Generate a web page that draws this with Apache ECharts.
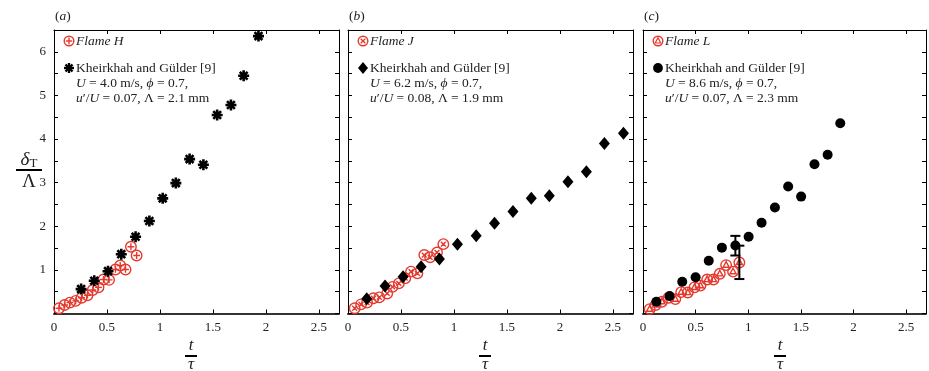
<!DOCTYPE html>
<html><head><meta charset="utf-8">
<script src="https://cdn.jsdelivr.net/npm/echarts@6/dist/echarts.min.js"></script>
<style>html,body{margin:0;padding:0;background:#fff}#c{width:929px;height:371px}</style>
</head><body><div id="c"></div>
<script>
// ---- data (t/tau, deltaT/Lambda) ----
const flameH_x = [0.047,0.10,0.15,0.205,0.26,0.316,0.366,0.42,0.467,0.52,0.58,0.625,0.675,0.726,0.78];
const flameH_y = [0.12,0.195,0.25,0.29,0.36,0.42,0.54,0.60,0.78,0.77,1.01,1.10,1.01,1.53,1.33];
const khA_x = [0.256,0.38,0.51,0.635,0.77,0.90,1.026,1.15,1.28,1.41,1.54,1.67,1.79,1.93];
const khA_y = [0.56,0.75,0.97,1.36,1.76,2.12,2.64,2.99,3.54,3.41,4.55,4.78,5.45,6.36];
const flameJ_x = [0.063,0.123,0.18,0.24,0.296,0.37,0.42,0.48,0.54,0.595,0.655,0.72,0.775,0.84,0.90];
const flameJ_y = [0.12,0.21,0.25,0.35,0.37,0.46,0.61,0.69,0.81,0.96,0.92,1.34,1.29,1.40,1.59];
const khB_x = [0.177,0.35,0.52,0.69,0.863,1.033,1.21,1.383,1.557,1.73,1.90,2.076,2.25,2.42,2.60];
const khB_y = [0.34,0.63,0.84,1.07,1.25,1.59,1.78,2.07,2.34,2.64,2.70,3.02,3.25,3.90,4.13];
const flameL_x = [0.063,0.12,0.18,0.243,0.307,0.363,0.426,0.49,0.546,0.61,0.67,0.73,0.79,0.856,0.916];
const flameL_y = [0.10,0.195,0.27,0.36,0.33,0.49,0.48,0.60,0.64,0.78,0.78,0.91,1.11,0.96,1.17];
const khC_x = [0.127,0.253,0.373,0.50,0.625,0.75,0.878,1.004,1.127,1.254,1.38,1.503,1.63,1.755,1.875];
const khC_y = [0.27,0.40,0.73,0.83,1.21,1.51,1.56,1.76,2.08,2.43,2.91,2.68,3.42,3.64,4.36];
const err_x = [0.878, 0.916];
const err_lo = [1.33, 0.79];
const err_hi = [1.78, 1.555];
const panelLetters = ['a','b','c'];
const flameNames = ['Flame H','Flame J','Flame L'];
const refName = 'Kheirkhah and Gülder [9]';
const condLine1 = ['4.0','6.2','8.6'];
const condLine2 = ['0.07, Λ = 2.1','0.08, Λ = 1.9','0.07, Λ = 2.3'];

const zip = (a,b) => a.map((v,i)=>[v,b[i]]);
const RED = '#e5392e';
const SERIF = '"Liberation Serif","DejaVu Serif",serif';
const P_PLUS = 'path://M0,10 A10,10 0 1 1 20,10 A10,10 0 1 1 0,10 Z M10,3.5 L10,16.5 M3.5,10 L16.5,10';
const P_X = 'path://M0,10 A10,10 0 1 1 20,10 A10,10 0 1 1 0,10 Z M5.4,5.4 L14.6,14.6 M14.6,5.4 L5.4,14.6';
const P_TRI = 'path://M0,10 A10,10 0 1 1 20,10 A10,10 0 1 1 0,10 Z M10,3.5 L15.8,14 L4.2,14 Z';
const P_AST = 'path://M10,0 L10,20 M0,10 L20,10 M2.9,2.9 L17.1,17.1 M17.1,2.9 L2.9,17.1';
const redSyms = [P_PLUS, P_X, P_TRI];

const lefts = [54, 348, 643];
const W = 285, TOP = 30, H = 283.5;
const XMAX = 2.69, YMAX = 6.5;

const grids = [], xAxes = [], yAxes = [], series = [], graphics = [];
const halfTick = v => Math.abs(v*2 - Math.round(v*2)) < 1e-6;

lefts.forEach((L, i) => {
  grids.push({left: L, top: TOP, width: W, height: H});
  xAxes.push({gridIndex:i, type:'value', min:0, max:XMAX, interval:0.5, position:'bottom',
    axisLine:{show:true, onZero:false, lineStyle:{color:'#333', width:2}},
    axisTick:{show:true, inside:true, length:4, lineStyle:{color:'#000', width:1}},
    axisLabel:{fontFamily:SERIF, fontSize:13, color:'#222', margin:8,
      formatter: v => halfTick(v) && v < 2.6 ? String(v) : ''},
    splitLine:{show:false}});
  xAxes.push({gridIndex:i, type:'value', min:0, max:XMAX, interval:0.5, position:'top',
    axisLine:{show:true, onZero:false, lineStyle:{color:'#000', width:1}},
    axisTick:{show:true, inside:true, length:4, lineStyle:{color:'#000'}},
    axisLabel:{show:false}, splitLine:{show:false}});
  yAxes.push({gridIndex:i, type:'value', min:0, max:YMAX, interval:0.5, position:'left',
    axisLine:{show:true, onZero:false, lineStyle:{color:'#000', width:1}},
    axisTick:{show:true, inside:true, length:4, lineStyle:{color:'#000'}},
    axisLabel:{show: i===0, fontFamily:SERIF, fontSize:13, color:'#222', margin:8,
      formatter: v => (Math.abs(v - Math.round(v)) < 1e-6 && v > 0) ? String(Math.round(v)) : ''},
    splitLine:{show:false}});
  yAxes.push({gridIndex:i, type:'value', min:0, max:YMAX, interval:0.5, position:'right',
    axisLine:{show:true, onZero:false, lineStyle:{color:'#000', width:1}},
    axisTick:{show:true, inside:true, length:4, lineStyle:{color:'#000'}},
    axisLabel:{show:false}, splitLine:{show:false}});
});

const redData = [zip(flameH_x, flameH_y), zip(flameJ_x, flameJ_y), zip(flameL_x, flameL_y)];
const blackData = [zip(khA_x, khA_y), zip(khB_x, khB_y), zip(khC_x, khC_y)];

for (let i = 0; i < 3; i++) {
  series.push({name: flameNames[i], type:'scatter', xAxisIndex:2*i, yAxisIndex:2*i,
    data: redData[i], symbol: redSyms[i], symbolSize: 10.5, silent:true,
    itemStyle:{color:'rgba(255,255,255,0)', borderColor:RED, borderWidth:1.4, opacity:1}});
  const bs = i === 0 ? {symbol:P_AST, symbolSize:11, itemStyle:{color:'rgba(0,0,0,0)', borderColor:'#000', borderWidth:2.6, opacity:1}}
           : i === 1 ? {symbol:'diamond', symbolSize:[11,13], itemStyle:{color:'#000', opacity:1}}
           : {symbol:'circle', symbolSize:10, itemStyle:{color:'#000', opacity:1}};
  series.push(Object.assign({name: refName + ' ' + panelLetters[i], type:'scatter', xAxisIndex:2*i, yAxisIndex:2*i,
    data: blackData[i], silent:true}, bs));
}

series.push({type:'custom', xAxisIndex:4, yAxisIndex:4, silent:true, z:5,
  data: err_x.map((x,k)=>[x, err_lo[k], err_hi[k]]),
  renderItem: (params, api) => {
    const x = api.value(0);
    const a = api.coord([x, api.value(1)]);
    const b = api.coord([x, api.value(2)]);
    const w = 5, st = {stroke:'#000', lineWidth:2};
    return {type:'group', children:[
      {type:'line', shape:{x1:a[0], y1:a[1], x2:b[0], y2:b[1]}, style:st},
      {type:'line', shape:{x1:a[0]-w, y1:a[1], x2:a[0]+w, y2:a[1]}, style:st},
      {type:'line', shape:{x1:b[0]-w, y1:b[1], x2:b[0]+w, y2:b[1]}, style:st}
    ]};
  }});

const FS = 13.5;
const rich = {i:{fontFamily:SERIF, fontSize:FS, fontStyle:'italic', fill:'#222'}};
const txt = (x, y, text) => ({type:'text', silent:true,
  style:{x, y, text, font:FS + 'px ' + SERIF, fill:'#222', verticalAlign:'middle', align:'left', rich}});
const gl = (x1,y1,x2,y2,stroke,w) => ({type:'line', silent:true, shape:{x1,y1,x2,y2}, style:{stroke, lineWidth:w}});

lefts.forEach((L, i) => {
  graphics.push(txt(L + 1, 16, '({i|' + panelLetters[i] + '})'));
  // legend: red marker
  const cx0 = L + 15, cy0 = 41, r = 4.8;
  graphics.push({type:'circle', silent:true, shape:{cx:cx0, cy:cy0, r}, style:{fill:'none', stroke:RED, lineWidth:1.4}});
  if (i === 0) {
    graphics.push(gl(cx0, cy0-3.2, cx0, cy0+3.2, RED, 1.4), gl(cx0-3.2, cy0, cx0+3.2, cy0, RED, 1.4));
  } else if (i === 1) {
    graphics.push(gl(cx0-2.3, cy0-2.3, cx0+2.3, cy0+2.3, RED, 1.3), gl(cx0+2.3, cy0-2.3, cx0-2.3, cy0+2.3, RED, 1.3));
  } else {
    graphics.push({type:'polygon', silent:true, shape:{points:[[cx0, cy0-3.2],[cx0+2.8, cy0+2],[cx0-2.8, cy0+2]]}, style:{fill:'none', stroke:RED, lineWidth:1.2}});
  }
  graphics.push(txt(L + 22, 41, '{i|' + flameNames[i] + '}'));
  // legend: black marker
  const bx = L + 15, by = 68;
  if (i === 0) {
    graphics.push(gl(bx, by-5, bx, by+5, '#000', 2.4), gl(bx-5, by, bx+5, by, '#000', 2.4),
      gl(bx-3.5, by-3.5, bx+3.5, by+3.5, '#000', 2.4), gl(bx+3.5, by-3.5, bx-3.5, by+3.5, '#000', 2.4));
  } else if (i === 1) {
    graphics.push({type:'polygon', silent:true, shape:{points:[[bx,by-6],[bx+5,by],[bx,by+6],[bx-5,by]]}, style:{fill:'#000'}});
  } else {
    graphics.push({type:'circle', silent:true, shape:{cx:bx, cy:by, r:4.9}, style:{fill:'#000'}});
  }
  graphics.push(txt(L + 22, 68, refName));
  graphics.push(txt(L + 22, 83, '{i|U} = ' + condLine1[i] + ' m/s, {i|ϕ} = 0.7,'));
  graphics.push(txt(L + 22, 98, '{i|u}′/{i|U} = ' + condLine2[i] + ' mm'));
  // x axis title t / tau
  const cx = L + 137;
  graphics.push({type:'text', silent:true, style:{x:cx, y:346, text:'t', font:'italic 17px ' + SERIF, fill:'#222', align:'center', verticalAlign:'middle'}});
  graphics.push(gl(cx-6, 356, cx+6, 356, '#000', 2));
  graphics.push({type:'text', silent:true, style:{x:cx, y:365, text:'τ', font:'italic 17px ' + SERIF, fill:'#222', align:'center', verticalAlign:'middle'}});
});
// y axis title delta_T / Lambda
graphics.push({type:'text', silent:true, style:{x:29, y:160, text:'{d|δ}{s|T}', align:'center', verticalAlign:'middle',
  rich:{d:{fontFamily:SERIF, fontSize:19, fontStyle:'italic', fill:'#222'}, s:{fontFamily:SERIF, fontSize:13, fill:'#222', padding:[8,0,0,0]}}}});
graphics.push(gl(16, 170, 42, 170, '#000', 2));
graphics.push({type:'text', silent:true, style:{x:29, y:182, text:'Λ', font:'19px ' + SERIF, fill:'#222', align:'center', verticalAlign:'middle'}});

const chart = echarts.init(document.getElementById('c'), null, {renderer:'canvas'});
chart.setOption({
  animation:false, backgroundColor:'#fff',
  grid: grids, xAxis: xAxes, yAxis: yAxes, series: series, graphic: graphics
});
</script>
</body></html>
